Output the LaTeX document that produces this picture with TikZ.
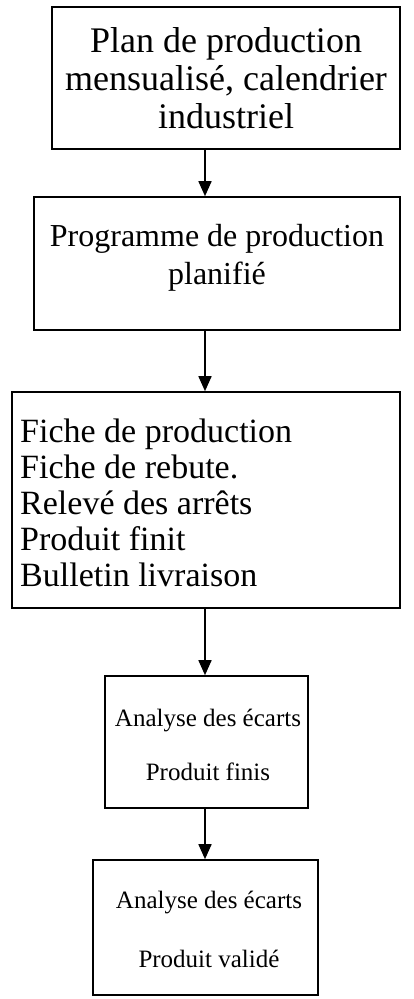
\documentclass[tikz,border=0pt]{standalone}
\usepackage{fontspec}
\setmainfont{Liberation Serif}
\usetikzlibrary{arrows.meta}
\begin{document}
\begin{tikzpicture}[x=1pt,y=-1pt,
  box/.style={draw, line width=1.6pt, inner sep=0pt},
  txt/.style={inner sep=0pt, anchor=base},
  ltxt/.style={inner sep=0pt, anchor=base west},
  fa/.style={font=\fontsize{36}{38}\selectfont},
  fb/.style={font=\fontsize{32}{38}\selectfont},
  fc/.style={font=\fontsize{34}{36}\selectfont},
  fd/.style={font=\fontsize{25}{30}\selectfont},
  arr/.style={line width=1.6pt, -{Triangle[width=13pt,length=15pt]}}]
\useasboundingbox (0,0) rectangle (413,999);
% boxes
\node[box, minimum width=348pt, minimum height=142pt] (b1) at (226,78) {};
\node[box, minimum width=366pt, minimum height=133pt] (b2) at (217,263.5) {};
\node[box, minimum width=388pt, minimum height=216pt] (b3) at (206,500) {};
\node[box, minimum width=203pt, minimum height=132pt] (b4) at (206.5,742) {};
\node[box, minimum width=225pt, minimum height=135pt] (b5) at (205.5,927.5) {};
% texts
\node[txt,fa] (t11) at (226,52) {Plan de production};
\node[txt,fa] (t12) at (226,90) {mensualisé, calendrier};
\node[txt,fa] (t13) at (226,128) {industriel};
\node[txt,fb] (t21) at (217,246) {Programme de production};
\node[txt,fb] (t22) at (217,284) {planifié};
\node[ltxt,fc] (t31) at (20,442) {Fiche de production};
\node[ltxt,fc] (t32) at (20,478) {Fiche de rebute.};
\node[ltxt,fc] (t33) at (20,514) {Relevé des arrêts};
\node[ltxt,fc] (t34) at (20,550) {Produit finit};
\node[ltxt,fc] (t35) at (20,586) {Bulletin livraison};
\node[txt,fd] (t41) at (208,726) {Analyse des écarts};
\node[txt,fd] (t42) at (208,780) {Produit finis};
\node[txt,fd] (t51) at (209,908) {Analyse des écarts};
\node[txt,fd] (t52) at (209,967) {Produit validé};
% connectors
\coordinate (ax) at (205,0);
\draw[arr] (b1.south -| ax) -- (b2.north -| ax);
\draw[arr] (b2.south -| ax) -- (b3.north -| ax);
\draw[arr] (b3.south -| ax) -- (b4.north -| ax);
\draw[arr] (b4.south -| ax) -- (b5.north -| ax);
\end{tikzpicture}
\end{document}
